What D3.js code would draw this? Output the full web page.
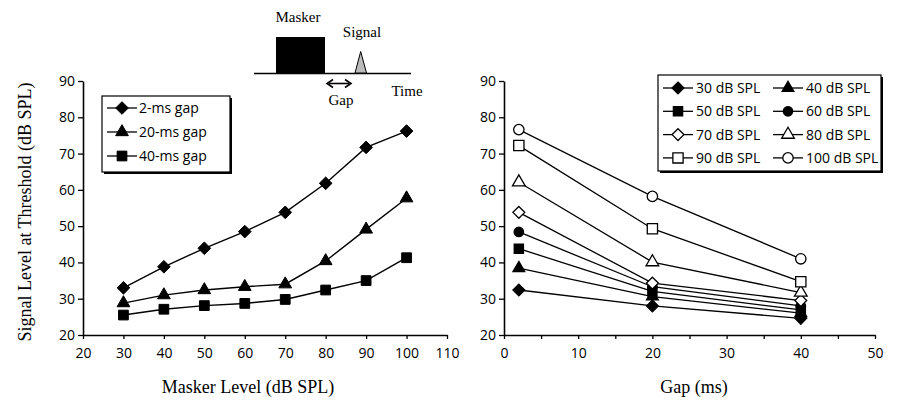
<!DOCTYPE html>
<html><head><meta charset="utf-8">
<script src="https://cdn.jsdelivr.net/npm/d3@7"></script>
<style>body{margin:0;background:#fff} svg{display:block}</style>
</head><body>
<svg id="c" width="897" height="403"></svg>
<script>
// ---- Data ----
const maskerLevels = [30, 40, 50, 60, 70, 80, 90, 100];
const gap2ms  = [33.0, 38.8, 43.9, 48.5, 53.8, 61.8, 71.7, 76.2];
const gap20ms = [28.8, 31.0, 32.4, 33.3, 34.0, 40.4, 49.1, 57.7];
const gap40ms = [25.5, 27.1, 28.1, 28.7, 29.8, 32.4, 35.0, 41.3];
const leftSeriesNames = ["2-ms gap", "20-ms gap", "40-ms gap"];

const gapValues = [2, 20, 40];
const spl30  = [32.4, 28.0, 24.6];
const spl40  = [38.4, 30.6, 26.0];
const spl50  = [43.8, 32.0, 26.9];
const spl60  = [48.4, 33.3, 28.0];
const spl70  = [53.8, 34.3, 29.5];
const spl80  = [62.1, 40.1, 31.7];
const spl90  = [72.2, 49.3, 34.7];
const spl100 = [76.6, 58.2, 41.0];
const rightSeriesNames = ["30 dB SPL","40 dB SPL","50 dB SPL","60 dB SPL","70 dB SPL","80 dB SPL","90 dB SPL","100 dB SPL"];

const yTicks = [20, 30, 40, 50, 60, 70, 80, 90];
const leftXTicks = [20, 30, 40, 50, 60, 70, 80, 90, 100, 110];
const rightXTicks = [0, 5, 10, 15, 20, 25, 30, 35, 40, 45, 50];

// ---- Setup ----
const svg = d3.select("#c");
const tickFont = "'Open Sans', sans-serif";
const serif = "'Liberation Serif', 'Times New Roman', serif";

const yScale = d3.scaleLinear().domain([20, 90]).range([335, 81]);
const xLeft = d3.scaleLinear().domain([20, 110]).range([83, 447]);
const xRight = d3.scaleLinear().domain([0, 50]).range([504, 875]);

const sq45 = {draw(ctx, size){ const r = Math.sqrt(size)/2*Math.SQRT2; ctx.moveTo(0,-r); ctx.lineTo(r,0); ctx.lineTo(0,r); ctx.lineTo(-r,0); ctx.closePath(); }};
function sym(type, size){
  const t = {diamond: sq45, triangle: d3.symbolTriangle, square: d3.symbolSquare, circle: d3.symbolCircle}[type];
  return d3.symbol().type(t).size(size)();
}

function drawAxes(g, xs, xTicks, xLabelFn){
  const ax = g.append("g").attr("transform", `translate(${xs.range()[0]},0)`)
    .call(d3.axisLeft(yScale).tickValues(yTicks).tickSize(5).tickSizeOuter(0).tickPadding(3));
  const ay = g.append("g").attr("transform", `translate(0,${yScale(20)})`)
    .call(d3.axisBottom(xs).tickValues(xTicks).tickSize(4).tickSizeOuter(0).tickPadding(9).tickFormat(xLabelFn));
  [ax, ay].forEach(a => {
    a.select(".domain").attr("stroke", "#000").attr("stroke-width", 1.6);
    a.selectAll(".tick line").attr("stroke", "#000").attr("stroke-width", 1.3);
    a.selectAll("text").attr("font-family", tickFont).attr("font-size", 14).attr("fill", "#000");
  });
}

// ---- Left panel ----
const L = svg.append("g");
drawAxes(L, xLeft, leftXTicks, d => d);
const leftSeries = [
  {name: leftSeriesNames[0], vals: gap2ms, type: "diamond", size: 80, fill: "#000"},
  {name: leftSeriesNames[1], vals: gap20ms, type: "triangle", size: 70, fill: "#000"},
  {name: leftSeriesNames[2], vals: gap40ms, type: "square", size: 95, fill: "#000"}
];
const line = (xs) => d3.line().x(d => xs(d[0])).y(d => yScale(d[1]));
leftSeries.forEach(s => {
  const pts = maskerLevels.map((m, i) => [m, s.vals[i]]);
  L.append("path").attr("d", line(xLeft)(pts)).attr("fill", "none").attr("stroke", "#000").attr("stroke-width", 1.4);
  L.selectAll(null).data(pts).enter().append("path")
    .attr("transform", d => `translate(${xLeft(d[0])},${yScale(d[1])})`)
    .attr("d", sym(s.type, s.size)).attr("fill", s.fill).attr("stroke", "#000").attr("stroke-width", 1);
});

// left legend
const LL = svg.append("g");
LL.append("rect").attr("x", 104).attr("y", 98).attr("width", 128).attr("height", 76).attr("fill", "#000");
LL.append("rect").attr("x", 102).attr("y", 96).attr("width", 128).attr("height", 76).attr("fill", "#fff").attr("stroke", "#000").attr("stroke-width", 1.2);
leftSeries.forEach((s, i) => {
  const y = 108 + i * 24;
  LL.append("line").attr("x1", 107).attr("x2", 137).attr("y1", y).attr("y2", y).attr("stroke", "#000").attr("stroke-width", 1.3);
  LL.append("path").attr("transform", `translate(122,${y})`).attr("d", sym(s.type, s.size)).attr("fill", s.fill).attr("stroke", "#000");
  LL.append("text").attr("x", 139).attr("y", y + 5).text(s.name)
    .attr("font-family", tickFont).attr("font-size", 14).attr("fill", "#000");
});

// ---- Right panel ----
const R = svg.append("g");
drawAxes(R, xRight, rightXTicks, d => d % 10 === 0 ? d : "");
const rightVals = [spl30, spl40, spl50, spl60, spl70, spl80, spl90, spl100];
const rightStyle = [
  {type: "diamond", size: 70, fill: "#000"},
  {type: "triangle", size: 60, fill: "#000"},
  {type: "square", size: 85, fill: "#000"},
  {type: "circle", size: 70, fill: "#000"},
  {type: "diamond", size: 70, fill: "#fff"},
  {type: "triangle", size: 70, fill: "#fff"},
  {type: "square", size: 105, fill: "#fff"},
  {type: "circle", size: 85, fill: "#fff"}
];
rightVals.forEach((vals, k) => {
  const pts = gapValues.map((g, i) => [g, vals[i]]);
  R.append("path").attr("d", line(xRight)(pts)).attr("fill", "none").attr("stroke", "#000").attr("stroke-width", 1.3);
});
rightVals.forEach((vals, k) => {
  const st = rightStyle[k];
  const pts = gapValues.map((g, i) => [g, vals[i]]);
  R.selectAll(null).data(pts).enter().append("path")
    .attr("transform", d => `translate(${xRight(d[0])},${yScale(d[1])})`)
    .attr("d", sym(st.type, st.size)).attr("fill", st.fill).attr("stroke", "#000").attr("stroke-width", 1.3);
});

// right legend
const RL = svg.append("g");
RL.append("rect").attr("x", 660).attr("y", 77).attr("width", 223).attr("height", 96).attr("fill", "#000");
RL.append("rect").attr("x", 658).attr("y", 75).attr("width", 223).attr("height", 96).attr("fill", "#fff").attr("stroke", "#000").attr("stroke-width", 1.2);
rightSeriesNames.forEach((name, k) => {
  const col = k % 2, row = Math.floor(k / 2);
  const x0 = col === 0 ? 663 : 773;
  const y = 88 + row * 23.3;
  const st = rightStyle[k];
  RL.append("line").attr("x1", x0).attr("x2", x0 + 30).attr("y1", y).attr("y2", y).attr("stroke", "#000").attr("stroke-width", 1.3);
  RL.append("path").attr("transform", `translate(${x0 + 15},${y})`).attr("d", sym(st.type, st.size)).attr("fill", st.fill).attr("stroke", "#000").attr("stroke-width", 1.3);
  RL.append("text").attr("x", x0 + 33).attr("y", y + 5).text(name)
    .attr("font-family", tickFont).attr("font-size", 14).attr("fill", "#000");
});

// ---- Axis titles ----
svg.append("text").attr("transform", "translate(31,212) rotate(-90)").attr("text-anchor", "middle")
  .attr("font-family", serif).attr("font-size", 18).text("Signal Level at Threshold (dB SPL)");
svg.append("text").attr("x", 248).attr("y", 393).attr("text-anchor", "middle")
  .attr("font-family", serif).attr("font-size", 18).text("Masker Level (dB SPL)");
svg.append("text").attr("x", 694).attr("y", 393).attr("text-anchor", "middle")
  .attr("font-family", serif).attr("font-size", 18).text("Gap (ms)");

// ---- Stimulus schematic ----
const S = svg.append("g");
S.append("line").attr("x1", 254).attr("x2", 411).attr("y1", 73.5).attr("y2", 73.5).attr("stroke", "#000").attr("stroke-width", 1.5);
S.append("rect").attr("x", 276).attr("y", 37).attr("width", 49).attr("height", 36).attr("fill", "#000");
S.append("path").attr("d", "M355,73 L360.7,51.5 L366.5,73 Z").attr("fill", "#bbb").attr("stroke", "#000").attr("stroke-width", 1);
S.append("line").attr("x1", 329).attr("x2", 349).attr("y1", 83.5).attr("y2", 83.5).attr("stroke", "#000").attr("stroke-width", 1.6);
S.append("path").attr("d", "M333,79.5 L327,83.5 L333,87.5").attr("fill", "none").attr("stroke", "#000").attr("stroke-width", 1.6);
S.append("path").attr("d", "M345,79.5 L351,83.5 L345,87.5").attr("fill", "none").attr("stroke", "#000").attr("stroke-width", 1.6);
S.append("text").attr("x", 298).attr("y", 22).attr("text-anchor", "middle").attr("font-family", serif).attr("font-size", 15).text("Masker");
S.append("text").attr("x", 362).attr("y", 37).attr("text-anchor", "middle").attr("font-family", serif).attr("font-size", 15).text("Signal");
S.append("text").attr("x", 341).attr("y", 105).attr("text-anchor", "middle").attr("font-family", serif).attr("font-size", 15).text("Gap");
S.append("text").attr("x", 407).attr("y", 96).attr("text-anchor", "middle").attr("font-family", serif).attr("font-size", 15).text("Time");
</script>
</body></html>
